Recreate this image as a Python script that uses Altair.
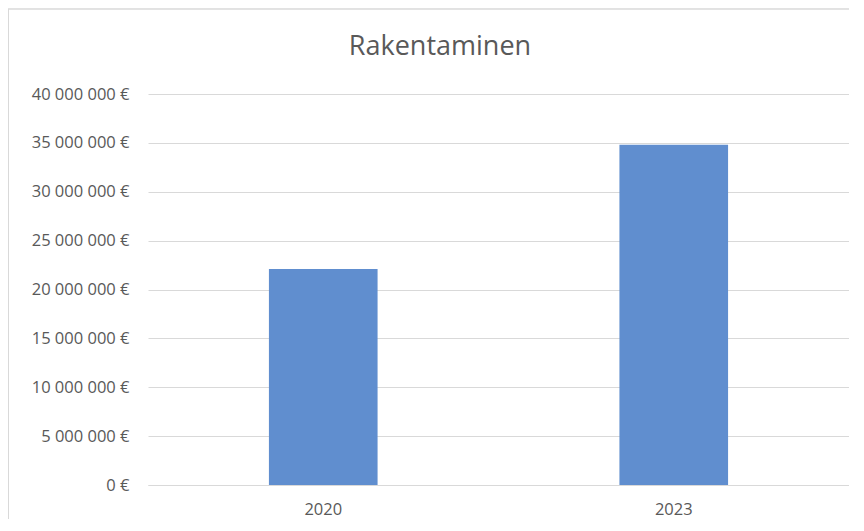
import altair as alt
import pandas as pd

years = ["2020", "2023"]
values = [22100000, 34800000]
title_text = "Rakentaminen"

df = pd.DataFrame({"Vuosi": years, "Arvo": values})

bars = alt.Chart(df).mark_bar(color="#608ecf").encode(
    x=alt.X("Vuosi:N", title=None, sort=years,
            scale=alt.Scale(paddingInner=0.69, paddingOuter=0.345),
            axis=alt.Axis(labelAngle=0, ticks=False, domain=True, domainColor="#d9d9d9",
                          labelPadding=16, labelFontSize=16.5, labelColor="#595959",
                          labelFont="Open Sans")),
    y=alt.Y("Arvo:Q", title=None,
            scale=alt.Scale(domain=[0, 40000000]),
            axis=alt.Axis(values=list(range(0, 40000001, 5000000)), ticks=False, domain=False,
                          gridColor="#d9d9d9", labelPadding=19, labelFontSize=16.5,
                          labelColor="#595959", labelFont="Open Sans",
                          labelExpr="replace(format(datum.value, ','), /,/g, ' ') + ' €'")),
)

frame_left = alt.Chart(df).mark_rule(color="#d9d9d9", clip=False, strokeWidth=1).encode(
    x=alt.value(-139.5), y=alt.value(-85), y2=alt.value(425))
frame_top = alt.Chart(df).mark_rule(color="#d9d9d9", clip=False, strokeWidth=1).encode(
    x=alt.value(-140), x2=alt.value(701), y=alt.value(-85))

title_mark = alt.Chart(pd.DataFrame({"t": [title_text]})).mark_text(
    fontSize=27, font="Open Sans", color="#595959", baseline="middle", align="center"
).encode(text="t:N", x=alt.value(292), y=alt.value(-47))

chart = alt.layer(frame_left, frame_top, bars, title_mark).properties(
    width=701, height=391,
    autosize=alt.AutoSizeParams(type="none"),
    padding={"left": 140, "top": 86, "right": 0, "bottom": 34},
).configure_view(stroke=None)

chart.save("out.html", embed_options={"renderer": "svg", "actions": False})
